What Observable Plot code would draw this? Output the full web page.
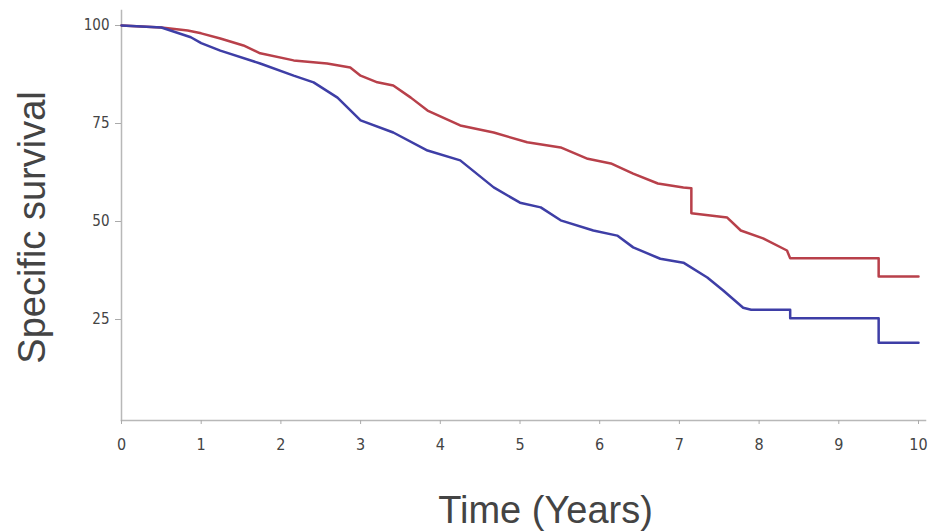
<!DOCTYPE html>
<html><head><meta charset="utf-8">
<script src="https://cdn.jsdelivr.net/npm/d3@7"></script>
<script src="https://cdn.jsdelivr.net/npm/@observablehq/plot@0.6"></script>
<style>body{margin:0;background:#fff}</style>
</head><body><div id="chart"></div>
<script>
// Upper (red) curve
const redTime = [0, 0.5, 0.83, 1.0, 1.24, 1.53, 1.74, 2.16, 2.58, 2.87, 3.0, 3.21, 3.41, 3.63, 3.84, 4.25, 4.67, 5.09, 5.51, 5.85, 6.14, 6.42, 6.73, 7.05, 7.15, 7.15, 7.6, 7.77, 8.05, 8.35, 8.39, 9.5, 9.5, 10.0];
const redSurv = [100, 99.5, 98.7, 98.0, 96.7, 94.9, 92.9, 91.1, 90.3, 89.3, 87.2, 85.5, 84.7, 81.6, 78.3, 74.5, 72.7, 70.2, 68.9, 66.0, 64.8, 62.2, 59.7, 58.7, 58.5, 52.1, 51.0, 47.7, 45.7, 42.6, 40.6, 40.6, 36.0, 36.0];
// Lower (blue) curve
const blueTime = [0, 0.5, 0.87, 1.0, 1.24, 1.74, 2.16, 2.41, 2.71, 3.0, 3.41, 3.84, 4.25, 4.67, 5.0, 5.26, 5.51, 5.92, 6.22, 6.42, 6.76, 7.05, 7.35, 7.55, 7.8, 7.9, 8.39, 8.39, 9.5, 9.5, 10.0];
const blueSurv = [100, 99.5, 97.0, 95.5, 93.6, 90.3, 87.2, 85.5, 81.6, 75.8, 72.7, 68.1, 65.6, 58.7, 54.8, 53.6, 50.3, 47.7, 46.4, 43.4, 40.5, 39.5, 35.7, 32.4, 28.0, 27.5, 27.5, 25.3, 25.3, 19.1, 19.1];
const xTicks = [0, 1, 2, 3, 4, 5, 6, 7, 8, 9, 10];
const yTicks = [25, 50, 75, 100];
const xLabel = "Time (Years)";
const yLabel = "Specific survival";

const red = redTime.map((t, i) => ({time: t, surv: redSurv[i]}));
const blue = blueTime.map((t, i) => ({time: t, surv: blueSurv[i]}));

const tickFont = "'Liberation Sans Narrow', 'DejaVu Sans Condensed', 'Liberation Sans', sans-serif";

const chart = Plot.plot({
  width: 933, height: 531,
  marginLeft: 121, marginRight: 8, marginTop: 10, marginBottom: 111,
  insetTop: 15, insetBottom: 3, insetRight: 7,
  style: {fontFamily: "'Liberation Sans', Arial, sans-serif", background: "#fff"},
  x: {domain: [0, 10]},
  y: {domain: [0, 100]},
  marks: [
    Plot.frame({anchor: "bottom", stroke: "#b8b8b8", strokeWidth: 1.5}),
    Plot.frame({anchor: "left", stroke: "#b8b8b8", strokeWidth: 1.5}),
    Plot.axisX(xTicks, {tickSize: 4, fill: "none", stroke: "#aaa", label: null}),
    Plot.axisX(xTicks, {tickSize: 0, tickPadding: 18, fill: "#444", fontSize: 16, fontFamily: tickFont, label: null}),
    Plot.axisY(yTicks, {tickSize: 6, fill: "none", stroke: "#aaa", label: null}),
    Plot.axisY(yTicks, {tickSize: 0, tickPadding: 12, fill: "#444", fontSize: 15, fontFamily: tickFont, label: null}),
    Plot.line(red, {x: "time", y: "surv", stroke: "#b8404a", strokeWidth: 2.5}),
    Plot.line(blue, {x: "time", y: "surv", stroke: "#3e3ea6", strokeWidth: 2.5}),
    Plot.text([xLabel], {frameAnchor: "bottom", textAnchor: "middle", dx: 22, dy: 102, fontSize: 38, fill: "#444"}),
    Plot.text([yLabel], {frameAnchor: "left", textAnchor: "middle", lineAnchor: "middle", rotate: -90, dx: -89, dy: 12, fontSize: 38, fill: "#444"})
  ]
});
document.getElementById("chart").appendChild(chart);
</script>
</body></html>
